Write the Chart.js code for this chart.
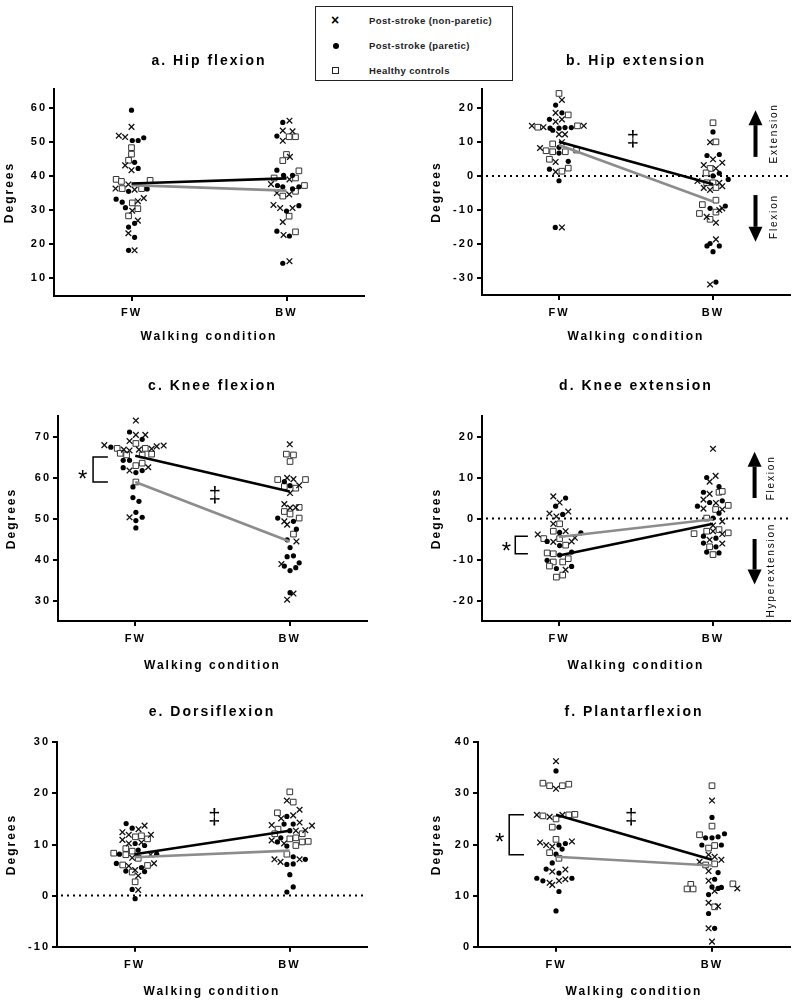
<!DOCTYPE html>
<html>
<head>
<meta charset="utf-8">
<script src="https://cdn.jsdelivr.net/npm/chart.js@4.4.1/dist/chart.umd.min.js"></script>
<style>
    body { margin: 0; background: #fff; width: 800px; height: 1004px; position: relative; overflow: hidden; font-family: "Liberation Sans", Arial, sans-serif; }
    canvas { position: absolute; }
    #legend { position: absolute; left: 315px; top: 6px; width: 196px; height: 73px; border: 1.5px solid #222; background: #fff; }
    #legend .row { position: absolute; left: 0; height: 14px; width: 100%; }
    #legend .tx { position: absolute; left: 53px; top: 0; font-size: 9.5px; font-weight: bold; letter-spacing: 0.4px; color: #222; line-height: 14px; white-space: nowrap; }
    #legend .mk { position: absolute; }
    .mk-x { left: 15px; top: -1px; font-size: 14px; font-weight: bold; line-height: 14px; }
    .mk-dot { left: 17px; top: 4px; width: 6px; height: 6px; border-radius: 50%; background: #000; }
    .mk-sq { left: 16px; top: 3px; width: 5px; height: 5px; border: 1.5px solid #222; }
</style>
</head>
<body>
<div id="legend">
    <div class="row" style="top:7px"><span class="mk mk-x">×</span><span class="tx">Post-stroke (non-paretic)</span></div>
    <div class="row" style="top:32px"><span class="mk mk-dot"></span><span class="tx">Post-stroke (paretic)</span></div>
    <div class="row" style="top:57px"><span class="mk mk-sq"></span><span class="tx">Healthy controls</span></div>
</div>
<canvas id="chartA" width="400" height="310" style="left:0;top:40px"></canvas>
<canvas id="chartB" width="400" height="310" style="left:400px;top:40px"></canvas>
<canvas id="chartC" width="400" height="320" style="left:0;top:360px"></canvas>
<canvas id="chartD" width="400" height="320" style="left:400px;top:360px"></canvas>
<canvas id="chartE" width="400" height="319" style="left:0;top:685px"></canvas>
<canvas id="chartF" width="400" height="319" style="left:400px;top:685px"></canvas>
<script>
// categorias del eje x (FW = 1, BW = 2); cada punto es [desplazamiento, grados]
const categories = ['FW', 'BW'];

// a. Hip flexion
const hipFlexTicks = [10, 20, 30, 40, 50, 60];
const hipFlexNonPareticFW = [[0, 54.4], [-0.082, 51.8], [-0.041, 51.4], [-0.041, 43.1], [0, 41.7], [-0.02, 37.5], [-0.103, 36.3], [0.02, 36], [0.041, 32.6], [0.079, 33.5], [0.005, 29.8], [0.041, 26.9], [-0.02, 23.2], [0.02, 18.2]];
const hipFlexPareticFW = [[0, 59.3], [0.005, 50.4], [0.043, 50.4], [0.079, 51.2], [0.02, 44], [0.043, 42.2], [-0.019, 35.5], [0.101, 36.2], [-0.099, 33.2], [-0.06, 32.3], [-0.039, 30.7], [0.02, 26.1], [-0.019, 25], [0.02, 22], [-0.019, 18.2]];
const hipFlexHealthyFW = [[0, 48.3], [0, 46.4], [-0.019, 44.6], [-0.099, 39], [-0.065, 38.4], [0.12, 38.7], [-0.06, 36.3], [0.065, 36.3], [0.005, 32.1], [0.041, 30.4], [-0.019, 28.3]];
const hipFlexNonPareticBW = [[0.019, 56.2], [-0.024, 53.3], [0.039, 53.1], [-0.024, 50.3], [0.022, 45.6], [0.019, 39], [-0.1, 37.6], [-0.062, 35], [0.017, 34.6], [-0.084, 31.5], [-0.041, 30.6], [0.039, 30.6], [-0.024, 26.5], [-0.019, 22.7], [0.019, 15]];
const hipFlexPareticBW = [[-0.024, 55.7], [-0.062, 51.7], [-0.062, 41.7], [-0.019, 40.2], [0.039, 40.2], [-0.058, 37.2], [-0.024, 36.8], [0.08, 36.8], [0.039, 36.2], [0, 29.7], [0.08, 31.3], [-0.062, 23.8], [0.019, 22.4], [-0.024, 14.4]];
const hipFlexHealthyBW = [[0.017, 51.5], [0.058, 51.5], [0, 46.3], [-0.024, 44.5], [0.08, 41.5], [0.058, 39.4], [-0.08, 39.4], [0.116, 37.2], [-0.024, 34.1], [0.058, 35.5], [0.017, 28.2], [0.058, 23.6]];
const hipFlexMeanBlack = [37.8, 39.3];
const hipFlexMeanGray = [37.3, 35.7];

// b. Hip extension
const hipExtTicks = [-30, -20, -10, 0, 10, 20];
const hipExtNonPareticFW = [[0.019, 22.3], [-0.022, 18.5], [-0.022, 15.9], [0.019, 16.6], [-0.176, 14.7], [-0.101, 14.3], [0.161, 14.7], [0, 12.2], [0.039, 12.2], [0.019, 9.9], [-0.123, 8.2], [-0.022, 4.1], [-0.022, 1.2], [0.019, -15.1]];
const hipExtPareticFW = [[-0.022, 20.8], [0.019, 18.5], [-0.062, 16.6], [-0.058, 14], [-0.041, 13.4], [0, 14], [0.039, 14.2], [0.08, 14.2], [0, 8.4], [0, 6.7], [0.06, 4.3], [-0.062, 2], [0, -1.4], [-0.024, -15.1]];
const hipExtHealthyFW = [[0, 24.2], [0.06, 17.9], [-0.138, 14.3], [0.12, 14.7], [-0.041, 9.4], [-0.084, 7.4], [-0.041, 7.1], [0.041, 7.1], [0.114, 7.6], [-0.062, 4.9], [0.06, 2.3], [0.019, 1.4]];
const hipExtNonPareticBW = [[-0.019, 9.9], [0, 4.9], [0.06, 3.9], [-0.06, 3.2], [0.019, 2.2], [-0.101, -1.5], [0.041, -2], [-0.06, -3.5], [-0.019, -4.1], [0.06, -3], [0.041, -10], [0.06, -9.5], [-0.041, -12], [0.019, -13.7], [0.019, -18.6], [-0.019, -31.8]];
const hipExtPareticBW = [[0, 12.9], [-0.039, 6], [0.041, 6.3], [0.041, 0.8], [0, 0], [0.099, -1], [0.08, -8.8], [-0.019, -9.5], [-0.019, -19.8], [-0.039, -20.5], [0.041, -20.5], [0, -22.2], [0.019, -31.1]];
const hipExtHealthyBW = [[0, 15.6], [0.019, 10], [-0.019, 2.2], [-0.045, 0.9], [-0.041, -2], [0, -2], [0.019, -3.4], [0.019, -7.1], [-0.069, -8.4], [0.019, -10.6], [-0.088, -11], [-0.019, -12.7]];
const hipExtMeanBlack = [10.0, -2.4];
const hipExtMeanGray = [9.1, -7.5];

// c. Knee flexion
const kneeFlexTicks = [30, 40, 50, 60, 70];
const kneeFlexNonPareticFW = [[0.004, 73.9], [0.004, 70.4], [0.065, 70.4], [-0.037, 68.9], [-0.2, 67.9], [-0.074, 66.8], [-0.037, 66.6], [0.024, 66.8], [0.106, 67], [0.139, 67.6], [0.184, 67.8], [0.084, 62.5], [-0.037, 61.7], [-0.037, 50.3]];
const kneeFlexPareticFW = [[-0.037, 71.1], [0.045, 69.3], [-0.158, 67.4], [-0.078, 64.2], [-0.037, 64.2], [-0.078, 62.4], [0.004, 61.2], [0.045, 61.7], [-0.015, 57.7], [-0.015, 55.1], [0.024, 54.2], [0.004, 51.5], [0.004, 49.5], [0.045, 50.3], [0.004, 47.7]];
const kneeFlexHealthyFW = [[0.004, 68.3], [-0.117, 67.1], [0.065, 67.1], [-0.097, 65.9], [-0.056, 65.5], [0.045, 65.5], [0.106, 65.7], [0.045, 63.5], [0.004, 62.9], [0.004, 58.9]];
const kneeFlexNonPareticBW = [[0, 68.1], [-0.017, 59.9], [0.024, 59.6], [0.061, 58.1], [0.002, 56.2], [-0.035, 53.5], [0.002, 52.6], [0.039, 52.7], [-0.035, 49.3], [-0.017, 48.5], [0.043, 44.4], [-0.054, 38.9], [0.024, 31.7], [-0.017, 30.2]];
const kneeFlexPareticBW = [[-0.035, 59], [0.002, 58], [-0.078, 50.1], [0.024, 49.3], [0.043, 47.4], [-0.017, 44.8], [0.002, 42.9], [-0.017, 40.7], [0.024, 40.9], [-0.035, 38.4], [0.002, 37.3], [0.039, 38], [0.061, 39.2], [0.002, 31.9]];
const kneeFlexHealthyBW = [[-0.022, 65.7], [0.024, 65.5], [0.002, 63.9], [-0.078, 59.5], [0.102, 59.5], [-0.035, 57.8], [0.039, 57.4], [0.061, 52.7], [-0.035, 51.7], [0.002, 51.1], [0.061, 50.1], [0.024, 46.2]];
const kneeFlexMeanBlack = [65.3, 56.6];
const kneeFlexMeanGray = [58.9, 44.4];

// d. Knee extension
const kneeExtTicks = [-20, -10, 0, 10, 20];
const kneeExtNonPareticFW = [[-0.037, 5.4], [0.004, 3.9], [0.06, 1.7], [-0.062, 1.2], [-0.017, 0.5], [-0.037, -1.3], [0.043, -3.1], [-0.138, -3.9], [-0.037, -5.7], [0.082, -5.6], [0.103, -4.7], [0.043, -12.5]];
const kneeExtPareticFW = [[0.043, 5], [-0.022, 3], [0.024, 1], [0.004, -3.4], [0.142, -3.5], [-0.077, -5.6], [0.004, -6.6], [0.004, -8.9], [0.082, -8.2], [-0.077, -10.2], [-0.017, -12.2], [0.082, -11.7]];
const kneeExtHealthyFW = [[0.004, -1.3], [-0.037, -3.1], [-0.099, -4.9], [0.004, -4.9], [0.043, -6.5], [-0.077, -8.4], [-0.037, -8.6], [-0.037, -10.6], [0.024, -10.6], [0.06, -9.8], [-0.062, -11.6], [-0.017, -14.3], [0.024, -13.8]];
const kneeExtNonPareticBW = [[0, 17], [0.017, 10.4], [-0.022, 9], [-0.022, 6], [-0.062, 4.6], [0.019, 3.8], [-0.062, 2.4], [0.06, 2.2], [0.06, -0.7], [0, -1.7], [0, -3.1], [0.06, -3.8], [-0.022, -5.2], [0.06, -6.1]];
const kneeExtPareticBW = [[-0.041, 10], [0.039, 7.8], [-0.062, 6.4], [-0.022, 3.9], [0.06, 4.3], [-0.101, 3], [0.039, 1.3], [0, 0.1], [-0.062, -4.3], [-0.062, -6], [0.019, -4.8], [0.019, -6.9], [-0.041, -8.2], [0.039, -8.4]];
const kneeExtHealthyBW = [[0.039, 6.4], [0.06, 6.6], [0.017, 2.2], [0.099, 3.2], [-0.041, 0.1], [-0.123, -3.7], [-0.041, -3.1], [0.039, -2.7], [0.099, -3.5], [-0.022, -6.9], [0, -8.8]];
const kneeExtMeanBlack = [-9.0, -1.3];
const kneeExtMeanGray = [-4.5, -0.2];

// e. Dorsiflexion
const dorsiTicks = [-10, 0, 10, 20, 30];
const dorsiNonPareticFW = [[0.026, 13], [0.065, 13.7], [-0.078, 12.4], [-0.037, 11.9], [0.106, 11.9], [-0.078, 10.9], [-0.037, 10.2], [0.045, 10.4], [0.104, 8], [-0.015, 7.4], [-0.037, 5.8], [0.126, 6.3], [0.004, 5], [0.024, 3.9], [0.024, 1.1]];
const dorsiPareticFW = [[-0.054, 14.1], [-0.015, 13.2], [0.004, 10.2], [0.065, 9.8], [0.024, 8.9], [-0.097, 8.1], [0.143, 8.1], [-0.117, 6.3], [-0.056, 4.8], [0.065, 4.7], [0.045, 5.5], [-0.015, 1.2], [0.004, -0.6]];
const dorsiHealthyFW = [[0.006, 11.5], [0.045, 11.7], [0.084, 11.1], [-0.056, 9.2], [-0.015, 8.7], [-0.134, 8.3], [-0.056, 8], [0.024, 7.3], [-0.076, 6], [0.084, 5.9], [-0.015, 4.6], [0.004, 2.7]];
const dorsiNonPareticBW = [[-0.017, 18.6], [0.065, 16.8], [0.024, 15.7], [-0.054, 15.1], [0.065, 14.3], [-0.115, 13.8], [0.041, 12.7], [0.102, 12.8], [0.145, 13.7], [-0.115, 10.8], [-0.035, 10.2], [-0.097, 7.1], [-0.058, 6.6], [0.065, 7.1]];
const dorsiPareticBW = [[-0.017, 15.5], [-0.035, 14], [0.024, 14], [0.002, 12.7], [-0.056, 11.3], [-0.078, 10.5], [-0.017, 9.7], [-0.017, 6.1], [0.024, 6.2], [0.024, 7.6], [0.102, 7.1], [0.002, 4.1], [0.024, 1.7], [-0.017, 0.7]];
const dorsiHealthyBW = [[0.002, 20.3], [0.024, 18.3], [-0.078, 16.2], [-0.074, 13], [-0.095, 12.1], [0.082, 12.1], [0.002, 11.1], [0.041, 11.3], [0.041, 9.8], [0.082, 10.5], [0.121, 10.6], [-0.017, 8.1]];
const dorsiMeanBlack = [8.1, 12.7];
const dorsiMeanGray = [7.5, 8.8];

// f. Plantarflexion
const plantarTicks = [0, 10, 20, 30, 40];
const plantarNonPareticFW = [[0, 36.3], [0, 30.9], [-0.123, 25.8], [-0.041, 25.4], [0.041, 25.8], [-0.102, 20.4], [-0.063, 19.9], [-0.024, 19.6], [0.102, 20.6], [-0.024, 14.7], [0.06, 15.1], [-0.041, 12.5], [-0.024, 12.1], [0.019, 12.9], [0.06, 13.2]];
const plantarPareticFW = [[0, 34.4], [0.019, 23.4], [0.019, 19.9], [0.06, 20.2], [0.039, 19.1], [0, 18.1], [-0.024, 16.4], [-0.063, 15.2], [0.019, 14.4], [-0.123, 13.4], [-0.084, 12.9], [0.102, 13.4], [0.019, 10.8], [0, 7]];
const plantarHealthyFW = [[-0.084, 32], [-0.041, 31.5], [0.041, 31.5], [0.082, 31.8], [-0.084, 25.6], [0, 25], [0.082, 25.8], [0.121, 25.9], [-0.024, 23.4], [0, 21], [-0.041, 18.4], [0.019, 17.3]];
const plantarNonPareticBW = [[0, 28.6], [-0.022, 18], [0.017, 17.6], [0.06, 17], [-0.08, 16.6], [-0.022, 14.8], [-0.022, 12.9], [0.162, 11.4], [0.017, 10.9], [-0.022, 8.6], [0.039, 7.9], [-0.022, 3.6], [0, 1]];
const plantarPareticBW = [[0, 25.3], [-0.041, 21.3], [0, 21.3], [0.039, 21.5], [0.08, 22.1], [-0.065, 19.9], [0.06, 19.9], [0.039, 14.5], [0.017, 13.2], [0, 11.7], [0.039, 11.4], [0.06, 11.6], [-0.022, 10.2], [-0.022, 6.5], [0.017, 3.6]];
const plantarHealthyBW = [[0, 31.5], [0, 23.6], [-0.08, 21.9], [-0.022, 19.3], [0.017, 19.8], [-0.041, 16], [0.017, 16.2], [-0.136, 12.2], [-0.121, 11.3], [-0.16, 11.3], [0.134, 12.3], [0.017, 7.8]];
const plantarMeanBlack = [25.8, 17.0];
const plantarMeanGray = [17.6, 15.9];

const FONT = '"Liberation Sans", Arial, sans-serif';

// espaciado de letras como en la figura original
const spacingPlugin = {
    id: 'spacing',
    beforeDraw: function (chart) {
        chart.ctx.letterSpacing = '2px';
    }
};

// linea punteada en cero, simbolos de significancia, flechas
const marksPlugin = {
    id: 'marks',
    beforeDatasetsDraw: function (chart, args, opts) {
        if (!opts.zeroLine) return;
        const ctx = chart.ctx;
        const area = chart.chartArea;
        const y0 = chart.scales.y.getPixelForValue(0);
        ctx.save();
        ctx.strokeStyle = '#000';
        ctx.lineWidth = 2;
        ctx.setLineDash([2, 4]);
        ctx.beginPath();
        ctx.moveTo(area.left + 4, y0);
        ctx.lineTo(area.right, y0);
        ctx.stroke();
        ctx.restore();
    },
    afterDatasetsDraw: function (chart, args, opts) {
        const ctx = chart.ctx;
        const xs = chart.scales.x;
        const ys = chart.scales.y;
        ctx.save();
        ctx.fillStyle = '#000';
        ctx.strokeStyle = '#000';
        ctx.letterSpacing = '0px';

        if (opts.dagger) {
            ctx.font = '22px ' + FONT;
            ctx.textAlign = 'center';
            ctx.textBaseline = 'middle';
            ctx.fillText('‡', xs.getPixelForValue(opts.dagger.x), ys.getPixelForValue(opts.dagger.y) + 1);
        }
        if (opts.star) {
            ctx.font = '24px ' + FONT;
            ctx.textAlign = 'center';
            ctx.textBaseline = 'alphabetic';
            ctx.fillText('*', xs.getPixelForValue(opts.star.x), ys.getPixelForValue(opts.star.y) + 24 * 0.58);
        }
        if (opts.bracket) {
            const b = opts.bracket;
            const x1 = xs.getPixelForValue(b.x1), x2 = xs.getPixelForValue(b.x2);
            const y1 = ys.getPixelForValue(b.y1), y2 = ys.getPixelForValue(b.y2);
            ctx.lineWidth = 1.5;
            ctx.beginPath();
            ctx.moveTo(x2, y1);
            ctx.lineTo(x1, y1);
            ctx.lineTo(x1, y2);
            ctx.lineTo(x2, y2);
            ctx.stroke();
        }
        (opts.arrows || []).forEach(function (a) {
            const x = xs.getPixelForValue(a.x);
            const yTail = ys.getPixelForValue(a.from);
            const yTip = ys.getPixelForValue(a.to);
            const dir = yTip < yTail ? -1 : 1;
            const head = 15;
            ctx.fillRect(x - 2, Math.min(yTail, yTip - dir * head), 4, Math.abs(yTip - dir * head - yTail));
            ctx.beginPath();
            ctx.moveTo(x, yTip);
            ctx.lineTo(x - 7, yTip - dir * head);
            ctx.lineTo(x + 7, yTip - dir * head);
            ctx.closePath();
            ctx.fill();
        });
        (opts.sideLabels || []).forEach(function (s) {
            ctx.save();
            ctx.translate(xs.getPixelForValue(s.x), ys.getPixelForValue(s.y));
            ctx.rotate(-Math.PI / 2);
            ctx.font = '10px ' + FONT;
            ctx.letterSpacing = '1.8px';
            ctx.textAlign = 'center';
            ctx.textBaseline = 'middle';
            ctx.fillText(s.text, 0, 0);
            ctx.restore();
        });
        ctx.restore();
    }
};

function build_points(fw, bw) {
    return fw.map(function (p) { return { x: 1 + p[0], y: p[1] }; })
        .concat(bw.map(function (p) { return { x: 2 + p[0], y: p[1] }; }));
}

function build_mean(values) {
    return values.map(function (v, i) { return { x: i + 1, y: v }; });
}

// geo: posicion del lienzo y del area del grafico en la pagina
function draw_panel(canvasId, geo, title, yMin, yMax, yTicks, series, meanBlack, meanGray, marks) {
    const axisFont = { family: FONT, size: 11, weight: 'bold' };
    const titleFont = { family: FONT, size: 12, weight: 'bold' };
    const yWidth = geo.chart[0] - geo.canvas[0];
    const padRight = geo.canvas[0] + geo.canvas[2] - geo.chart[2];
    const titleTop = geo.titleY - geo.canvas[1] - 8.4;
    const titleBottom = geo.chart[1] - geo.canvas[1] - titleTop - 16.8;
    const xHeight = geo.canvas[1] + geo.canvas[3] - geo.chart[3];

    new Chart(document.getElementById(canvasId), {
        type: 'scatter',
        data: {
            datasets: [
                {
                    label: 'Mean (black)',
                    data: build_mean(meanBlack),
                    showLine: true,
                    borderColor: '#000',
                    borderWidth: 2.6,
                    pointRadius: 0,
                    order: 0
                },
                {
                    label: 'Mean (gray)',
                    data: build_mean(meanGray),
                    showLine: true,
                    borderColor: '#8c8c8c',
                    borderWidth: 2.6,
                    pointRadius: 0,
                    order: 1
                },
                {
                    label: 'Post-stroke (non-paretic)',
                    data: build_points(series[0], series[1]),
                    pointStyle: 'crossRot',
                    pointRadius: 4,
                    borderColor: '#111',
                    borderWidth: 1.3,
                    order: 2
                },
                {
                    label: 'Post-stroke (paretic)',
                    data: build_points(series[2], series[3]),
                    pointStyle: 'circle',
                    pointRadius: 2.6,
                    backgroundColor: '#000',
                    borderWidth: 0,
                    order: 3
                },
                {
                    label: 'Healthy controls',
                    data: build_points(series[4], series[5]),
                    pointStyle: 'rect',
                    pointRadius: 4,
                    backgroundColor: '#fff',
                    borderColor: '#333',
                    borderWidth: 1,
                    order: 4
                }
            ]
        },
        options: {
            responsive: false,
            animation: false,
            events: [],
            layout: { padding: { left: 0, right: padRight, top: 0, bottom: 0 } },
            plugins: {
                legend: { display: false },
                tooltip: { enabled: false },
                title: {
                    display: true,
                    text: title,
                    fullSize: false,
                    color: '#000',
                    font: { family: FONT, size: 14, weight: 'bold' },
                    padding: { top: titleTop, bottom: titleBottom }
                },
                marks: marks
            },
            scales: {
                x: {
                    type: 'linear',
                    min: 0.5,
                    max: 2.5,
                    afterBuildTicks: function (scale) {
                        scale.ticks = categories.map(function (c, i) { return { value: i + 1 }; });
                    },
                    afterFit: function (scale) { scale.height = xHeight; },
                    ticks: {
                        color: '#000',
                        font: axisFont,
                        padding: geo.xLabelY - geo.chart[3] - 5 - 6.6,
                        maxRotation: 0,
                        autoSkip: false,
                        callback: function (value, index) { return categories[index]; }
                    },
                    grid: { drawOnChartArea: false, drawTicks: true, tickLength: 5, color: '#000', lineWidth: 2 },
                    border: { display: true, color: '#000', width: 2 },
                    title: {
                        display: true,
                        text: 'Walking condition',
                        color: '#000',
                        font: titleFont,
                        padding: { top: 0, bottom: geo.canvas[1] + geo.canvas[3] - geo.xTitleY - 7.2 }
                    }
                },
                y: {
                    min: yMin,
                    max: yMax,
                    afterBuildTicks: function (scale) {
                        scale.ticks = yTicks.map(function (v) { return { value: v }; });
                    },
                    afterFit: function (scale) { scale.width = yWidth; },
                    ticks: { color: '#000', font: axisFont, padding: 2 },
                    grid: { drawOnChartArea: false, drawTicks: true, tickLength: 5, color: '#000', lineWidth: 2 },
                    border: { display: true, color: '#000', width: 2 },
                    title: {
                        display: true,
                        text: 'Degrees',
                        color: '#000',
                        font: titleFont,
                        padding: { top: geo.yTitleX - geo.canvas[0] - 7.2, bottom: 0 }
                    }
                }
            }
        },
        plugins: [spacingPlugin, marksPlugin]
    });
}

document.addEventListener('DOMContentLoaded', function () {
    draw_panel('chartA',
        { canvas: [0, 40, 400, 310], chart: [54, 89, 364, 296], titleY: 61.5, yTitleX: 10, xLabelY: 313, xTitleY: 337 },
        'a. Hip flexion', 4.8, 65.5, hipFlexTicks,
        [hipFlexNonPareticFW, hipFlexNonPareticBW, hipFlexPareticFW, hipFlexPareticBW, hipFlexHealthyFW, hipFlexHealthyBW],
        hipFlexMeanBlack, hipFlexMeanGray, {});

    draw_panel('chartB',
        { canvas: [400, 40, 400, 310], chart: [482, 89, 790, 295], titleY: 61.5, yTitleX: 437, xLabelY: 313, xTitleY: 337 },
        'b. Hip extension', -34.9, 25.5, hipExtTicks,
        [hipExtNonPareticFW, hipExtNonPareticBW, hipExtPareticFW, hipExtPareticBW, hipExtHealthyFW, hipExtHealthyBW],
        hipExtMeanBlack, hipExtMeanGray,
        {
            zeroLine: true,
            dagger: { x: 1.48, y: 10.8 },
            arrows: [{ x: 2.276, from: 5.6, to: 19.3 }, { x: 2.276, from: -5.6, to: -19.3 }],
            sideLabels: [{ text: 'Extension', x: 2.4, y: 12.5 }, { text: 'Flexion', x: 2.4, y: -11.9 }]
        });

    draw_panel('chartC',
        { canvas: [0, 360, 400, 320], chart: [58, 416, 367, 621], titleY: 386.5, yTitleX: 11.7, xLabelY: 639, xTitleY: 666 },
        'c. Knee flexion', 25, 75, kneeFlexTicks,
        [kneeFlexNonPareticFW, kneeFlexNonPareticBW, kneeFlexPareticFW, kneeFlexPareticBW, kneeFlexHealthyFW, kneeFlexHealthyBW],
        kneeFlexMeanBlack, kneeFlexMeanGray,
        {
            star: { x: 0.66, y: 61.1 },
            bracket: { x1: 0.727, x2: 0.823, y1: 65, y2: 58.9 },
            dagger: { x: 1.515, y: 55.8 }
        });

    draw_panel('chartD',
        { canvas: [400, 360, 400, 320], chart: [482, 416, 790, 621], titleY: 386, yTitleX: 437, xLabelY: 639, xTitleY: 666 },
        'd. Knee extension', -25, 25, kneeExtTicks,
        [kneeExtNonPareticFW, kneeExtNonPareticBW, kneeExtPareticFW, kneeExtPareticBW, kneeExtHealthyFW, kneeExtHealthyBW],
        kneeExtMeanBlack, kneeExtMeanGray,
        {
            zeroLine: true,
            star: { x: 0.658, y: -6.5 },
            bracket: { x1: 0.716, x2: 0.798, y1: -4.3, y2: -8.6 },
            arrows: [{ x: 2.27, from: 5, to: 16.3 }, { x: 2.27, from: -5, to: -16.1 }],
            sideLabels: [{ text: 'Flexion', x: 2.38, y: 9.9 }, { text: 'Hyperextension', x: 2.38, y: -12.6 }]
        });

    draw_panel('chartE',
        { canvas: [0, 685, 400, 319], chart: [57, 742.3, 367, 946.7], titleY: 712, yTitleX: 11.7, xLabelY: 965, xTitleY: 991.7 },
        'e. Dorsiflexion', -10, 30, dorsiTicks,
        [dorsiNonPareticFW, dorsiNonPareticBW, dorsiPareticFW, dorsiPareticBW, dorsiHealthyFW, dorsiHealthyBW],
        dorsiMeanBlack, dorsiMeanGray,
        {
            zeroLine: true,
            dagger: { x: 1.515, y: 15.4 }
        });

    draw_panel('chartF',
        { canvas: [400, 685, 400, 319], chart: [478, 742.3, 790, 946.7], titleY: 712, yTitleX: 437, xLabelY: 965, xTitleY: 991.7 },
        'f. Plantarflexion', 0, 40, plantarTicks,
        [plantarNonPareticFW, plantarNonPareticBW, plantarPareticFW, plantarPareticBW, plantarHealthyFW, plantarHealthyBW],
        plantarMeanBlack, plantarMeanGray,
        {
            star: { x: 0.639, y: 21.7 },
            bracket: { x1: 0.7, x2: 0.795, y1: 25.8, y2: 18 },
            dagger: { x: 1.482, y: 25.4 }
        });
});
</script>
</body>
</html>
